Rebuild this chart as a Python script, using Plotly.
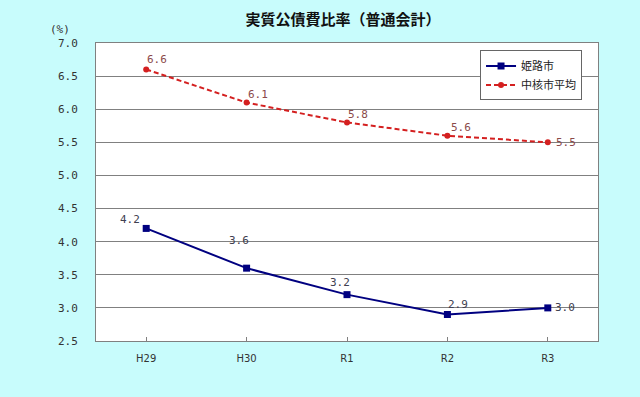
import plotly.graph_objects as go

categories = ["H29", "H30", "R1", "R2", "R3"]
himeji = [4.2, 3.6, 3.2, 2.9, 3.0]
chukaku = [6.6, 6.1, 5.8, 5.6, 5.5]
himeji_labels = ["4.2", "3.6", "3.2", "2.9", "3.0"]
chukaku_labels = ["6.6", "6.1", "5.8", "5.6", "5.5"]
y_ticks = [2.5, 3.0, 3.5, 4.0, 4.5, 5.0, 5.5, 6.0, 6.5, 7.0]

# label offsets in pixels (style, not data)
himeji_offsets = [(-16, 9), (-8, 28), (-7, 12), (11, 10), (17, 0)]
chukaku_offsets = [(11, 10), (11, 8), (11, 8), (14, 8), (18, 0)]

font_fam = "Noto Sans CJK JP, sans-serif"
label_font = "DejaVu Sans Mono"

fig = go.Figure()
fig.add_trace(go.Scatter(
    x=categories, y=himeji, name="姫路市", mode="lines+markers",
    line=dict(color="#000080", width=2),
    marker=dict(symbol="square", size=7, color="#000080"),
))
fig.add_trace(go.Scatter(
    x=categories, y=chukaku, name="中核市平均", mode="lines+markers",
    line=dict(color="#D42020", width=2, dash="5px,3px"),
    marker=dict(symbol="circle", size=6, color="#D42020"),
))

annotations = []
for c, v, t, (dx, dy) in zip(categories, himeji, himeji_labels, himeji_offsets):
    annotations.append(dict(x=c, y=v, text=t, showarrow=False, xshift=dx, yshift=dy,
                            font=dict(size=11, color="#404050", family=label_font)))
for c, v, t, (dx, dy) in zip(categories, chukaku, chukaku_labels, chukaku_offsets):
    annotations.append(dict(x=c, y=v, text=t, showarrow=False, xshift=dx, yshift=dy,
                            font=dict(size=11, color="#8B4A4A", family=label_font)))
annotations.append(dict(text="(%)", x=-0.072, y=1.0, xref="paper", yref="paper",
                        xanchor="center", yanchor="bottom", yshift=5, showarrow=False,
                        font=dict(size=11, color="#333333", family=label_font)))

fig.update_layout(
    width=640, height=397,
    paper_bgcolor="#C8FCFC", plot_bgcolor="#FFFFFF",
    margin=dict(l=96, r=42, t=43, b=56),
    title=dict(text="<b>実質公債費比率（普通会計）</b>", x=0.536, xanchor="center", y=0.95, yanchor="middle",
               font=dict(size=15, color="#111111", family=font_fam)),
    font=dict(family=font_fam, color="#333333", size=11),
    showlegend=True,
    legend=dict(x=0.765, y=0.975, xanchor="left", yanchor="top",
                bgcolor="#FFFFFF", bordercolor="#666666", borderwidth=1,
                font=dict(size=11, color="#222222", family=font_fam),
                itemwidth=30, tracegroupgap=10),
    xaxis=dict(type="category", range=[-0.5, 4.5], showgrid=False,
               showline=True, linecolor="#808080", linewidth=1, mirror=True,
               ticks="inside", ticklen=4, tickcolor="#808080",
               tickfont=dict(family="DejaVu Sans", size=10, color="#333333"),
               ticklabelstandoff=8),
    yaxis=dict(range=[2.5, 7.0], tickvals=y_ticks,
               ticktext=[f"{v:.1f}" for v in y_ticks],
               showgrid=True, gridcolor="#808080", gridwidth=1,
               showline=True, linecolor="#808080", linewidth=1, mirror=True,
               zeroline=False, ticks="",
               tickfont=dict(family=label_font, size=11, color="#333333"),
               ticklabelstandoff=15),
    annotations=annotations,
)

fig.write_html("out.html", config={"displayModeBar": False},
               post_script="document.body.style.margin='0';document.body.style.background='#C8FCFC';")
